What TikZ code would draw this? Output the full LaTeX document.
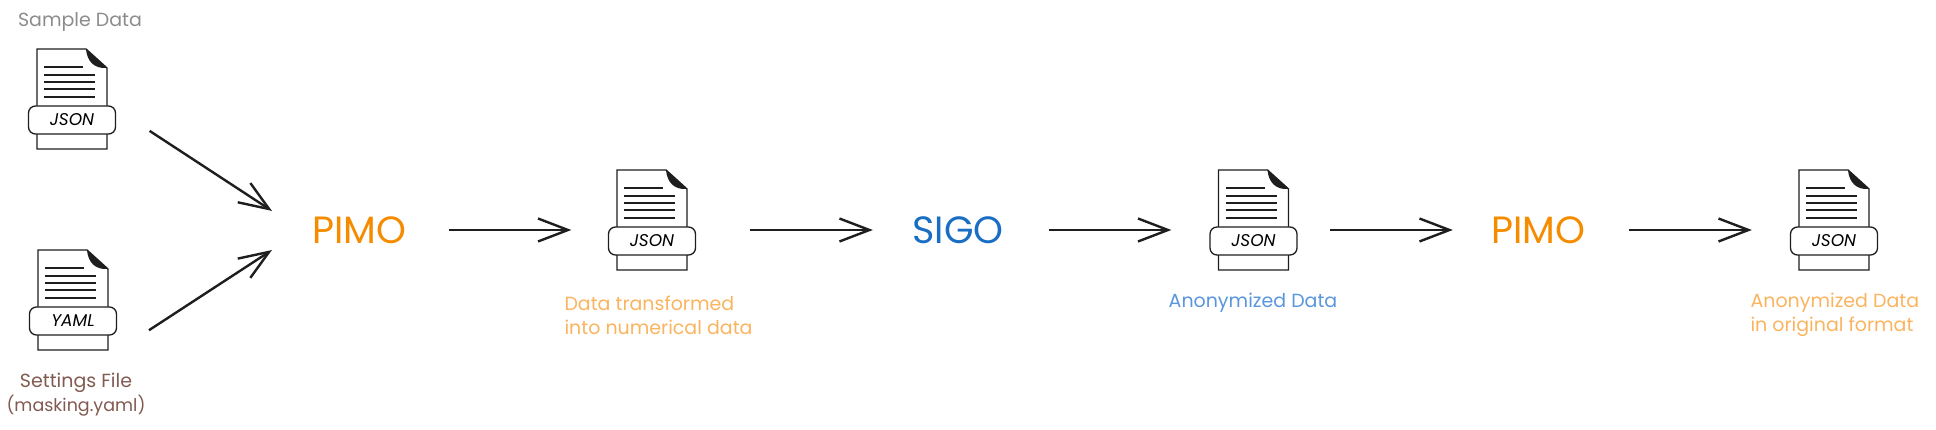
\documentclass[tikz,border=0pt]{standalone}
\usepackage{fontspec}
\setmainfont{Poppins}
\usetikzlibrary{arrows.meta, positioning}
\definecolor{pimoColor}{RGB}{245, 140, 0}
\definecolor{sigoColor}{RGB}{25, 110, 195}
\definecolor{pimoNote}{RGB}{250, 180, 95}
\definecolor{sigoNote}{RGB}{90, 150, 220}
\definecolor{fileNote}{RGB}{130, 90, 80}
\definecolor{sampleNote}{RGB}{140, 140, 140}
\definecolor{inkColor}{RGB}{30, 30, 30}
\tikzset{
  x=1pt, y=-1pt,
  flow/.style={draw=inkColor, line width=2.4pt, -{Straight Barb[length=30pt, width=23pt, line width=2.4pt]}},
  tool/.style={font=\fontsize{38}{38}\selectfont, minimum width=100pt, inner sep=0pt},
  note/.style={font=\fontsize{19}{24}\selectfont, align=left},
  badge/.style={draw=inkColor, fill=white, line width=1.3pt, rounded corners=7pt, minimum width=87pt, minimum height=28pt, inner sep=0pt, font=\fontsize{17}{17}\selectfont\itshape}
}
% doc icon: #1 name, #2 centre x, #3 top y, #4 format
\newcommand{\docicon}[4]{
  \draw[draw=inkColor, line width=1.4pt, fill=white] (#2-35,#3) -- (#2+14,#3) -- (#2+35,#3+19) -- (#2+35,#3+100) -- (#2-35,#3+100) -- cycle;
  \fill[inkColor] (#2+14,#3) .. controls (#2+15,#3+12) and (#2+22,#3+20) .. (#2+35,#3+19) -- cycle;
  \foreach \ya/\xb in {18/11, 26/23, 33/23, 40/23, 48/23}
    \draw[inkColor, line width=1.4pt] (#2-28,#3+\ya) -- (#2+\xb,#3+\ya);
  \node[badge] (#1) at (#2,#3+71) {#4};
}
\begin{document}
\begin{tikzpicture}
\useasboundingbox (0,0) rectangle (1936,430);

\docicon{sample}{72}{49}{JSON}
\docicon{settings}{73}{250}{YAML}
\docicon{numeric}{652}{170}{JSON}
\docicon{anon}{1253.5}{170}{JSON}
\docicon{final}{1834}{170}{JSON}

\node[tool, text=pimoColor] (pimoA) at (359,230) {PIMO};
\node[tool, text=sigoColor] (sigo) at (958,230) {SIGO};
\node[tool, text=pimoColor] (pimoB) at (1538,230) {PIMO};

\node[note, text=sampleNote] (sampleText) at (80,22) {Sample Data};
\node[note, text=fileNote, align=center] (settingsText) at (76,395) {Settings File\\{\fontsize{17.5}{24}\selectfont (masking.yaml)}};
\node[note, text=pimoNote, anchor=west] (numericText) at (561,315) {Data transformed\\into numerical data};
\node[note, text=sigoNote] (anonText) at (1253,303) {Anonymized Data};
\node[note, text=pimoNote, anchor=west] (finalText) at (1747,315) {Anonymized Data\\in original format};

\draw[flow, shorten <=40pt, shorten >=44pt] ([yshift=11pt]sample.east) -- ([yshift=-5pt]pimoA.west);
\draw[flow, shorten <=38pt, shorten >=44pt] ([yshift=-30pt]settings.east) -- ([yshift=4pt]pimoA.west);
\draw[flow, shorten <=40pt, shorten >=36.5pt] (pimoA.east) -- (numeric.west |- pimoA.east);
\draw[flow, shorten <=53.5pt, shorten >=35pt] (numeric.east |- sigo.west) -- (sigo.west);
\draw[flow, shorten <=41pt, shorten >=38pt] (sigo.east) -- (anon.west |- sigo.east);
\draw[flow, shorten <=32pt, shorten >=35pt] (anon.east |- pimoB.west) -- (pimoB.west);
\draw[flow, shorten <=41pt, shorten >=38pt] (pimoB.east) -- (final.west |- pimoB.east);
\end{tikzpicture}
\end{document}
